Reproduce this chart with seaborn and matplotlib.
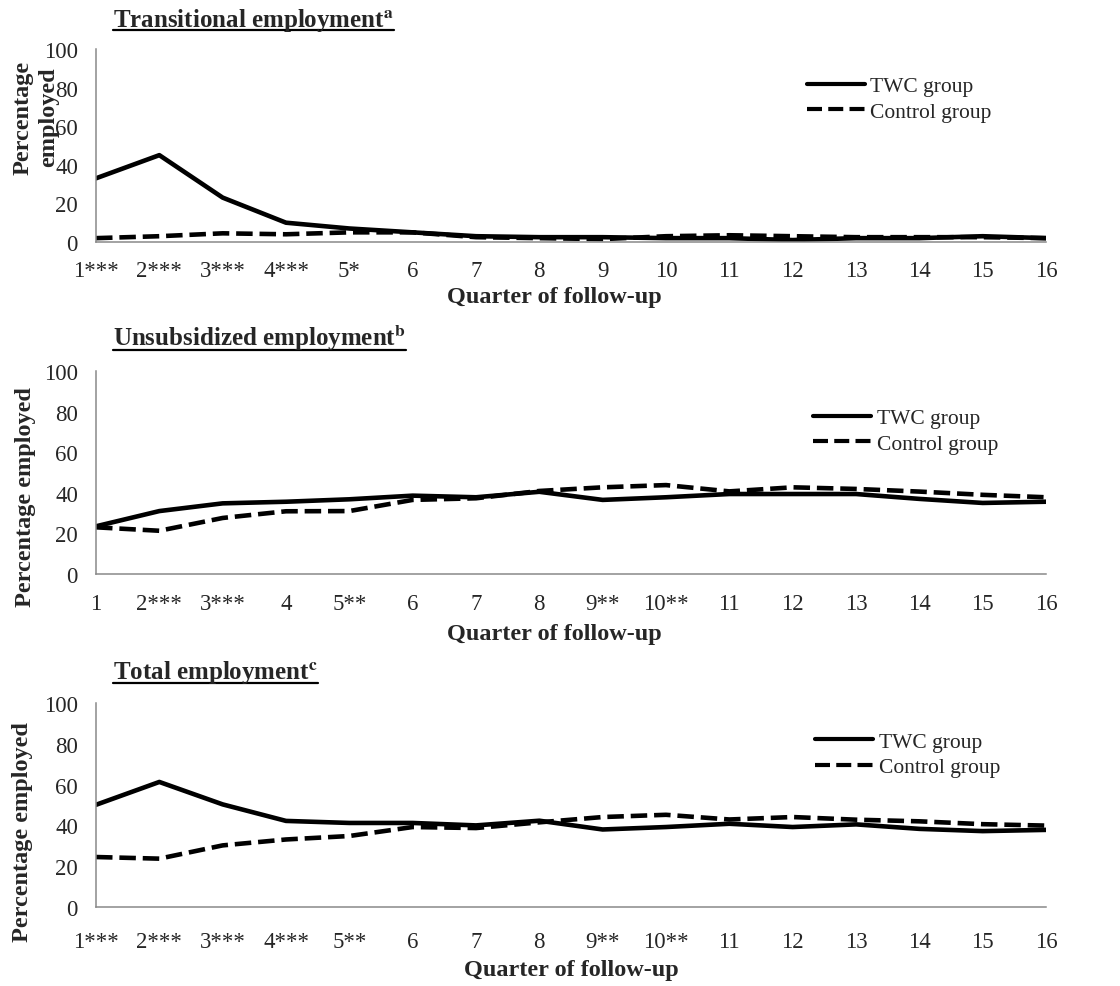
"""Quarterly employment rates for the TWC and control groups, three stacked panels."""

import matplotlib

matplotlib.use("Agg")
import matplotlib.pyplot as plt
import pandas as pd
import seaborn as sns
from matplotlib.lines import Line2D

W, H = 1120, 987

QUARTERS = list(range(1, 17))
GROUPS = ["TWC group", "Control group"]

TRANSITIONAL_TICKS = ["1***", "2***", "3***", "4***", "5*", "6", "7", "8",
                      "9", "10", "11", "12", "13", "14", "15", "16"]
UNSUBSIDIZED_TICKS = ["1", "2***", "3***", "4", "5**", "6", "7", "8",
                      "9**", "10**", "11", "12", "13", "14", "15", "16"]
TOTAL_TICKS = ["1***", "2***", "3***", "4***", "5**", "6", "7", "8",
               "9**", "10**", "11", "12", "13", "14", "15", "16"]

TRANSITIONAL_TWC = [33, 45, 23, 10, 7, 5, 3, 2.5, 2.5, 2, 2, 1, 2, 2, 3, 2]
TRANSITIONAL_CONTROL = [2, 3, 4.5, 4, 5, 5, 2.5, 2, 1.5, 3, 3.5, 3, 2.5, 2.5, 2.5, 2]

UNSUBSIDIZED_TWC = [23.5, 31, 34.8, 35.6, 36.8, 38.6, 37.8, 40.5,
                    36.5, 37.8, 39.4, 39.4, 39.4, 37, 35, 35.6]
UNSUBSIDIZED_CONTROL = [23, 21.3, 27.6, 30.9, 31, 36.5, 37.3, 40.9,
                        42.7, 43.8, 40.7, 42.7, 41.9, 40.6, 39, 37.8]

TOTAL_TWC = [50.1, 61.3, 50.3, 42.2, 41.2, 41.2, 40, 42.3,
             38, 39.2, 40.8, 39.2, 40.5, 38.3, 37.2, 37.8]
TOTAL_CONTROL = [24.5, 23.7, 30.2, 33.1, 34.8, 39.2, 38.7, 41.5,
                 44.1, 45.2, 42.9, 44.1, 42.8, 42, 40.6, 39.9]

FONT = ["Liberation Serif", "DejaVu Serif"]
AXIS_GRAY = "#898989"

# pixel layout of each panel (axes top/bottom, title baseline, underline)
# plus label and legend anchors in axes fractions
PANELS = [
    dict(title="Transitional employment", sup="a",
         twc=TRANSITIONAL_TWC, ctrl=TRANSITIONAL_CONTROL, ticks=TRANSITIONAL_TICKS,
         top=50, bottom=243, base=27, uline=31, xpad=13,
         ylabel="Percentage\nemployed", ylab_xy=(-0.039, 0.65), xlab_xy=(0.482, -0.228),
         leg=(0.748, 0.74)),
    dict(title="Unsubsidized employment", sup="b",
         twc=UNSUBSIDIZED_TWC, ctrl=UNSUBSIDIZED_CONTROL, ticks=UNSUBSIDIZED_TICKS,
         top=372, bottom=575, base=346, uline=351, xpad=14,
         ylabel="Percentage employed", ylab_xy=(-0.063, 0.384), xlab_xy=(0.482, -0.241),
         leg=(0.755, 0.705)),
    dict(title="Total employment", sup="c",
         twc=TOTAL_TWC, ctrl=TOTAL_CONTROL, ticks=TOTAL_TICKS,
         top=704, bottom=908, base=679, uline=684, xpad=17,
         ylabel="Percentage employed", ylab_xy=(-0.066, 0.373), xlab_xy=(0.5, -0.255),
         leg=(0.757, 0.748)),
]


def _frame(twc, ctrl):
    return pd.DataFrame({
        "quarter": QUARTERS * 2,
        "pct": list(twc) + list(ctrl),
        "group": [GROUPS[0]] * len(twc) + [GROUPS[1]] * len(ctrl),
    })


def draw_panel(fig, p):
    left, right = 96, 1046
    ax = fig.add_axes([left / W, 1 - p["bottom"] / H,
                       (right - left) / W, (p["bottom"] - p["top"]) / H])
    df = _frame(p["twc"], p["ctrl"])
    sns.lineplot(data=df, x="quarter", y="pct", style="group", style_order=GROUPS,
                 dashes={GROUPS[0]: "", GROUPS[1]: (3.6, 1.5)},
                 color="black", linewidth=3.3, ax=ax, legend=True)

    ax.set_xlim(1, 16)
    ax.set_ylim(0, 100)
    ax.set_xticks(QUARTERS)
    ax.set_xticklabels(p["ticks"])
    ax.set_yticks([0, 20, 40, 60, 80, 100])
    ax.tick_params(axis="both", length=0, labelsize=16.5)
    ax.tick_params(axis="x", pad=p["xpad"])
    ax.tick_params(axis="y", pad=13)
    for lab in ax.get_xticklabels() + ax.get_yticklabels():
        lab.set_family(FONT)

    for side in ("top", "right"):
        ax.spines[side].set_visible(False)
    for side in ("left", "bottom"):
        ax.spines[side].set_color(AXIS_GRAY)
        ax.spines[side].set_linewidth(1.1)
    ax.grid(False)

    ax.set_ylabel(p["ylabel"], fontsize=17.5, fontweight="bold", family=FONT,
                  linespacing=1.25)
    ax.yaxis.set_label_coords(*p["ylab_xy"])
    ax.set_xlabel("Quarter of follow-up", fontsize=17.5, fontweight="bold", family=FONT)
    ax.xaxis.set_label_coords(*p["xlab_xy"])

    handles, labels = ax.get_legend_handles_labels()
    ax.get_legend().remove()
    for h in handles:
        h.set_linewidth(3.0)
    ax.legend(handles, labels, loc="center left", bbox_to_anchor=p["leg"],
              frameon=False, borderpad=0, borderaxespad=0, handlelength=2.7,
              handletextpad=0.25, labelspacing=0.25,
              prop={"family": FONT, "size": 15.5})

    t = fig.text(113 / W, 1 - p["base"] / H,
                 p["title"] + r"$^{\mathbf{" + p["sup"] + "}}$",
                 fontsize=18, fontweight="bold", family=FONT,
                 ha="left", va="baseline")
    return t, p["uline"]


def main():
    sns.set_theme(style="white")
    plt.rcParams["font.family"] = FONT
    plt.rcParams["mathtext.fontset"] = "stix"

    fig = plt.figure(figsize=(W / 100, H / 100), dpi=100)
    titles = [draw_panel(fig, p) for p in PANELS]

    # underline the panel titles
    fig.canvas.draw()
    renderer = fig.canvas.get_renderer()
    for t, uline in titles:
        bb = t.get_window_extent(renderer)
        y = 1 - uline / H
        fig.add_artist(Line2D([bb.x0 / W, bb.x1 / W], [y, y], color="black",
                              linewidth=1.6, transform=fig.transFigure))

    fig.savefig("out.png", dpi=100)
    plt.close(fig)


if __name__ == "__main__":
    main()
